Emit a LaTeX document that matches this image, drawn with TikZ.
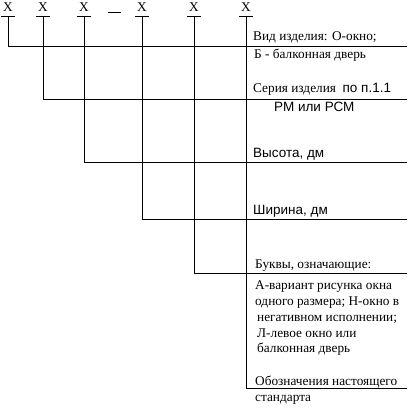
\documentclass[tikz,border=0pt]{standalone}
\usepackage{fontspec}
\setmainfont{Liberation Serif}
\newfontfamily\arialf{Liberation Sans}
\begin{document}
\begin{tikzpicture}[x=1pt,y=-1pt,
  lbl/.style={anchor=base west,inner sep=0pt,font=\fontsize{13.3}{15}\selectfont},
  slbl/.style={anchor=base west,inner sep=0pt,font=\arialf\fontsize{13.5}{15}\selectfont},
  xl/.style={anchor=base,inner sep=0pt,font=\fontsize{13.3}{15}\selectfont},
  ln/.style={line width=0.9pt}]
\useasboundingbox (0,0) rectangle (409,409);
% X letters
\foreach \n/\x in {a/8,b/43,c/84,d/142,e/194,f/246}{
  \node[xl] (x\n) at (\x,11.5) {Х};
  \coordinate (t\n) at (\x,16);
  \draw[ln] (\x-7,16) -- (\x+7,16);
}
\draw[ln] (108,12.5) -- (121,12.5);
% right end coordinates
\coordinate (ea) at (407,46);
\coordinate (eb) at (407,99);
\coordinate (ec) at (407,162);
\coordinate (ed) at (407,219);
\coordinate (ee) at (407,273);
\coordinate (ef) at (407,388);
\draw[ln] (ta) |- (ea);
\draw[ln] (tb) |- (eb);
\draw[ln] (tc) |- (ec);
\draw[ln] (td) |- (ed);
\draw[ln] (te) |- (ee);
\draw[ln] (tf) |- (ef);
% texts
\node[lbl] (l1) at (253,41) {Вид изделия: О-окно;};
\node[lbl] (l2) at (254,59) {Б - балконная дверь};
\node[lbl] (l3) at (253,93) {Серия изделия\ \ {\arialf\fontsize{13.5}{15}\selectfont по п.1.1}};
\node[slbl] (l4) at (274,112) {РМ или РСМ};
\node[slbl] (l5) at (253,157) {Высота, дм};
\node[slbl] (l6) at (253,214) {Ширина, дм};
\node[lbl] (l7) at (255,268) {Буквы, означающие:};
\node[lbl] (l8) at (255,289) {А-вариант рисунка окна};
\node[lbl] (l9) at (255,305) {одного размера; Н-окно в};
\node[lbl] (l10) at (257,321) {негативном исполнении;};
\node[lbl] (l11) at (257,337) {Л-левое окно или};
\node[lbl] (l12) at (257,352) {балконная дверь};
\node[lbl] (l13) at (255,385) {Обозначения настоящего};
\node[lbl] (l14) at (255,401) {стандарта};
\end{tikzpicture}
\end{document}
